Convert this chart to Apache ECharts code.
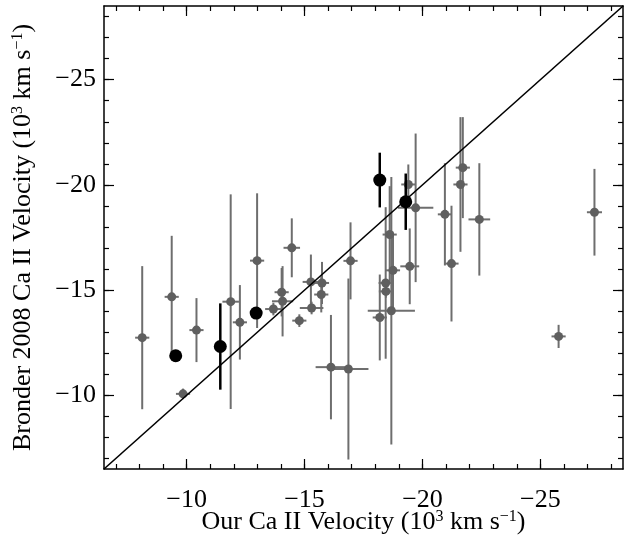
<!DOCTYPE html>
<html>
<head>
<meta charset="utf-8">
<script src="https://cdn.jsdelivr.net/npm/echarts@6/dist/echarts.min.js"></script>
<style>html,body{margin:0;padding:0;background:#fff}#c{width:626px;height:535px}</style>
</head>
<body>
<div id="c"></div>
<script>
// Gray points: x, y, x error, y error (10^3 km/s)
const grayX    = [-8.12,-9.37,-9.85,-10.42,-11.87,-12.26,-12.99,-14.46,-13.68,-14.03,-14.07,-14.78,-15.27,-15.30,-15.74,-15.71,-16.12,-16.86,-16.95,-18.19,-18.44,-18.45,-18.68,-18.61,-18.75,-19.46,-19.40,-19.71,-20.95,-21.23,-21.71,-21.61,-22.41,-27.29,-25.77];
const grayY    = [-12.74,-14.68,-10.07,-13.10,-14.45,-13.47,-16.40,-17.01,-14.10,-14.90,-14.47,-13.55,-15.39,-14.15,-15.34,-14.79,-11.34,-11.25,-16.39,-13.70,-15.34,-14.94,-14.02,-17.64,-15.94,-16.13,-20.02,-18.91,-18.60,-16.26,-20.82,-20.02,-18.36,-18.70,-12.80];
const grayXErr = [0.3,0.3,0.3,0.3,0.35,0.3,0.3,0.35,0.35,0.3,0.45,0.3,0.35,0.5,0.3,0.3,0.65,0.85,0.3,0.3,0.3,0.3,1.0,0.3,0.3,0.4,0.3,0.75,0.3,0.3,0.3,0.3,0.46,0.32,0.3];
const grayYErr = [3.4,2.9,0.25,1.52,5.1,1.77,3.2,1.4,0.3,1.15,1.67,0.3,1.3,0.3,1.0,0.85,2.48,4.3,1.83,2.04,3.6,0.3,6.35,2.3,1.8,1.8,0.95,3.53,2.43,2.75,2.4,3.2,2.67,2.06,0.55];
// Black points
const blackX    = [-9.54,-11.43,-12.95,-18.19,-19.29];
const blackY    = [-11.88,-12.32,-13.91,-20.23,-19.20];
const blackYErr = [0,2.05,0,1.3,1.34];
// One-to-one line
const lineXY = [-6.5,-28.5];
// Axis range and ticks
const axisMin = -28.5, axisMax = -6.5;
const majorTicks = [-25,-20,-15,-10];
const minorTicks = [-28,-27,-26,-25,-24,-23,-22,-21,-20,-19,-18,-17,-16,-15,-14,-13,-12,-11,-10,-9,-8,-7];

const FONT = 'Liberation Serif';
const FS = 26;

const grayData = grayX.map((x,i)=>[x, grayY[i], grayXErr[i], grayYErr[i]]);
const blackData = blackX.map((x,i)=>[x, blackY[i], 0, blackYErr[i]]);

function errRender(color, width){
  return function(params, api){
    const x = api.value(0), y = api.value(1), xe = api.value(2), ye = api.value(3);
    const children = [];
    if (ye > 0){
      const a = api.coord([x, y-ye]), b = api.coord([x, y+ye]);
      children.push({type:'line', shape:{x1:a[0],y1:a[1],x2:b[0],y2:b[1]}, style:{stroke:color, lineWidth:width}});
    }
    if (xe > 0){
      const a = api.coord([x-xe, y]), b = api.coord([x+xe, y]);
      children.push({type:'line', shape:{x1:a[0],y1:a[1],x2:b[0],y2:b[1]}, style:{stroke:color, lineWidth:width}});
    }
    return {type:'group', children};
  };
}

function mkAxis(pos, major, withLabel, isX){
  const ax = {
    type:'value', min:axisMin, max:axisMax, inverse:true, position:pos,
    splitLine:{show:false},
    axisLine:{show:major, onZero:false, lineStyle:{color:'#000', width:1.5}},
    axisTick:{show:true, inside:true, length: major?10:5, customValues: major?majorTicks:minorTicks, lineStyle:{color:'#000', width:1.2}},
    axisLabel:{show:withLabel, customValues: majorTicks, fontFamily:FONT, fontSize:FS, color:'#000',
      margin: isX ? 18 : 8, formatter: v => (v<0?'\u2212':'') + Math.abs(v)},
    axisPointer:{show:false}
  };
  if (withLabel){
    ax.nameLocation = 'middle';
    ax.nameMoveOverlap = false;
    ax.nameTextStyle = {fontFamily:FONT, fontSize:FS, color:'#000',
      rich:{a:{fontFamily:FONT, fontSize:FS, color:'#000'}, s:{fontFamily:FONT, fontSize:16, color:'#000', verticalAlign:'top', lineHeight:16}}};
    if (isX){
      ax.name = '{a|Our Ca II Velocity (10}{s|3}{a| km s}{s|\u22121}{a|)}';
      ax.nameGap = 40;
    } else {
      ax.name = '{a|Bronder 2008 Ca II Velocity (10}{s|3}{a| km s}{s|\u22121}{a|)}';
      ax.nameGap = 68;
      ax.nameRotate = 90;
    }
  }
  return ax;
}

const chart = echarts.init(document.getElementById('c'), null, {renderer:'canvas'});
chart.setOption({
  animation:false,
  backgroundColor:'#fff',
  grid:{left:104, right:3, top:6, bottom:66, containLabel:false, outerBoundsMode:'none'},
  xAxis:[mkAxis('bottom',true,true,true), mkAxis('bottom',false,false,true), mkAxis('top',true,false,true), mkAxis('top',false,false,true)],
  yAxis:[mkAxis('left',true,true,false), mkAxis('left',false,false,false), mkAxis('right',true,false,false), mkAxis('right',false,false,false)],
  series:[
    {type:'custom', renderItem:errRender('#6e6e6e',2), data:grayData, z:1, encode:{x:0,y:1}, silent:true},
    {type:'scatter', data:grayData.map(d=>[d[0],d[1]]), symbol:'circle', symbolSize:9, itemStyle:{color:'#5f5f5f', opacity:1}, z:2, silent:true},
    {type:'line', data:[[lineXY[0],lineXY[0]],[lineXY[1],lineXY[1]]], symbol:'none', lineStyle:{color:'#000', width:1.6}, z:3, silent:true},
    {type:'custom', renderItem:errRender('#000',2.5), data:blackData, z:4, encode:{x:0,y:1}, silent:true},
    {type:'scatter', data:blackData.map(d=>[d[0],d[1]]), symbol:'circle', symbolSize:13, itemStyle:{color:'#000', opacity:1}, z:5, silent:true}
  ]
});
</script>
</body>
</html>
